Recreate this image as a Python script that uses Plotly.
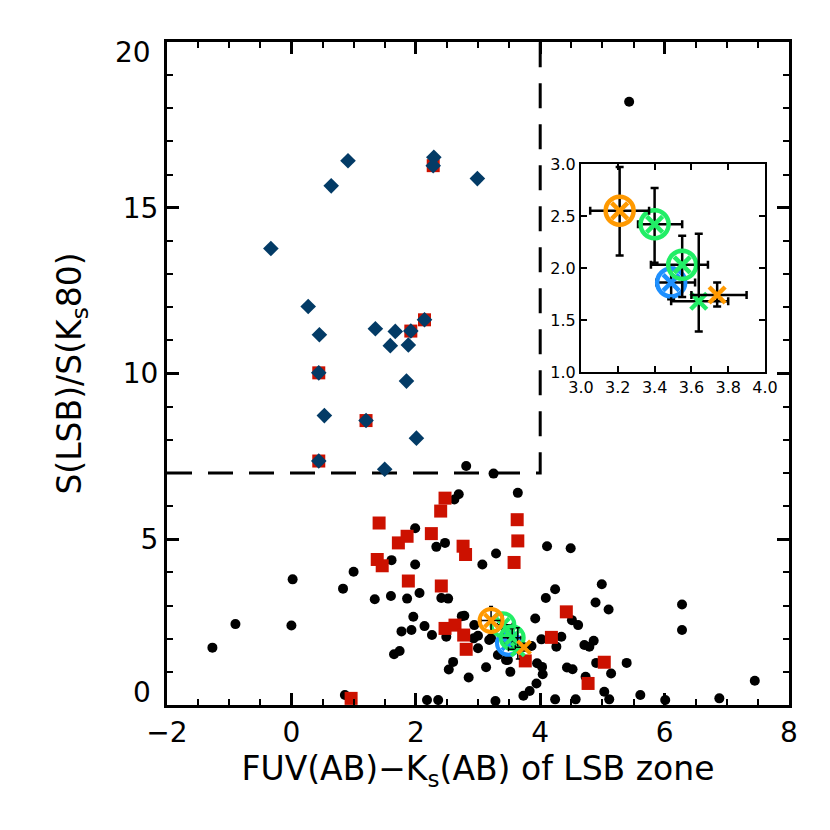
import plotly.graph_objects as go

# ---------------- data ----------------
black_x = [-1.27, -0.90, 0.00, 0.02, 0.83, 1.00, 0.86, 1.34, 1.61, 1.60, 1.86, 1.99, 1.99, 2.06,
           1.96, 1.77, 1.93, 1.65, 1.74, 2.14, 2.26, 2.33, 2.47, 2.41, 2.52, 2.49, 2.60, 2.53,
           2.62, 2.69, 2.74, 2.78, 2.93, 3.00, 2.85, 2.94, 3.07, 3.13, 3.29, 3.32, 3.21, 2.18,
           2.36, 3.28, 3.25, 2.81, 3.64, 4.11, 4.49, 4.99, 4.89, 5.10, 4.24, 4.09, 3.92, 4.51,
           4.61, 4.02, 4.34, 4.26, 4.71, 4.79, 4.86, 6.28, 6.28, 3.52, 3.45, 3.95, 4.03, 4.04,
           3.94, 3.73, 3.83, 4.43, 4.52, 4.90, 5.39, 5.14, 4.73, 5.03, 5.11, 4.24, 4.57, 5.61,
           6.01, 6.88, 7.45, 3.86, 5.43, 3.00, 3.18, 3.48, 3.45, 3.58]
black_y = [1.73, 2.44, 2.40, 3.79, 3.51, 4.02, 0.30, 3.19, 4.37, 3.29, 3.21, 5.33, 4.24, 3.38,
           2.66, 2.22, 2.26, 1.53, 1.63, 2.38, 2.11, 4.77, 4.89, 3.23, 3.21, 2.06, 1.30, 1.07,
           6.20, 6.36, 2.68, 2.69, 2.01, 1.71, 0.83, 2.41, 4.24, 1.14, 4.57, 1.51, 2.01, 0.15,
           0.15, 0.12, 6.98, 7.21, 6.40, 4.79, 4.73, 3.64, 3.09, 2.88, 3.49, 3.23, 2.61, 2.56,
           2.41, 1.98, 2.06, 1.76, 1.81, 1.76, 1.94, 3.03, 2.26, 1.00, 1.36, 1.26, 1.15, 0.93,
           0.65, 0.28, 0.42, 1.13, 1.08, 1.27, 1.27, 0.95, 0.85, 0.40, 0.17, 0.17, 0.17, 0.30,
           0.15, 0.20, 0.73, 1.78, 18.20, 2.09, 1.96, 1.36, 2.30, 1.95]

red_x = [0.96, 1.41, 1.38, 1.46, 1.72, 1.86, 1.88, 2.25, 2.40, 2.47, 2.76, 2.80, 2.41, 2.47,
         2.63, 2.77, 2.81, 3.63, 3.64, 3.58, 4.42, 4.18, 3.76, 5.03, 4.77,
         2.28, 1.92, 2.14, 0.44, 1.20, 0.44]
red_y = [0.20, 5.49, 4.39, 4.20, 4.89, 5.09, 3.74, 5.17, 5.85, 6.24, 4.79, 4.54, 3.59, 2.31,
         2.41, 2.11, 1.68, 5.59, 4.95, 4.30, 2.81, 2.04, 1.33, 1.29, 0.65,
         16.27, 11.28, 11.62, 10.02, 8.58, 7.36]

dia_x = [-0.33, 0.64, 0.91, 2.29, 2.28, 2.99, 0.27, 0.45, 1.35, 1.67, 1.92, 2.14, 1.59, 1.88,
         0.44, 1.85, 0.53, 1.20, 2.01, 0.44, 1.50]
dia_y = [13.77, 15.66, 16.42, 16.52, 16.27, 15.88, 12.02, 11.17, 11.35, 11.27, 11.28, 11.62,
         10.84, 10.86, 10.02, 9.77, 8.73, 8.58, 8.05, 7.36, 7.11]

# summary points drawn as rings: blue, green, green, orange
ring_x = [3.49, 3.40, 3.55, 3.21]
ring_y = [1.86, 2.42, 2.03, 2.55]
ring_x_lo = [3.41, 3.31, 3.38, 3.05]
ring_x_hi = [3.62, 3.55, 3.69, 3.37]
ring_y_lo = [1.70, 2.05, 1.72, 2.12]
ring_y_hi = [2.00, 2.77, 2.31, 2.97]

# summary points drawn as crosses only: green, orange
cross_x = [3.64, 3.74]
cross_y = [1.68, 1.74]
cross_x_lo = [3.49, 3.60]
cross_x_hi = [3.80, 3.90]
cross_y_lo = [1.39, 1.63]
cross_y_hi = [2.33, 1.86]

x_cut = 4.0
y_cut = 7.0
main_x_range = [-2, 8]
main_y_range = [0, 20]
main_x_ticks = [-2, 0, 2, 4, 6, 8]
main_x_ticktext = ["\u22122", "0", "2", "4", "6", "8"]
main_y_ticks = [0, 5, 10, 15, 20]
inset_x_range = [3.0, 4.0]
inset_y_range = [1.0, 3.0]
inset_x_ticks = [3.0, 3.2, 3.4, 3.6, 3.8, 4.0]
inset_y_ticks = [1.0, 1.5, 2.0, 2.5, 3.0]

# ---------------- style ----------------
ring_colors = ["#1E90FF", "#22EE66", "#22EE66", "#FF9900"]
cross_colors = ["#22EE66", "#FF9900"]
RED = "#CC1100"
NAVY = "#033B66"
FONT = "DejaVu Sans"

fig = go.Figure()

# dashed selection boundary
fig.add_trace(go.Scatter(
    x=[main_x_range[0], x_cut, x_cut], y=[y_cut, y_cut, main_y_range[1]],
    mode="lines", line=dict(color="black", width=3, dash="25px,16px"),
    hoverinfo="skip", showlegend=False, cliponaxis=False))

fig.add_trace(go.Scatter(x=black_x, y=black_y, mode="markers",
                         marker=dict(color="black", size=10), showlegend=False))
fig.add_trace(go.Scatter(x=red_x, y=red_y, mode="markers",
                         marker=dict(color=RED, symbol="square", size=13), showlegend=False))
fig.add_trace(go.Scatter(x=dia_x, y=dia_y, mode="markers",
                         marker=dict(color=NAVY, symbol="diamond", size=12), showlegend=False))


def add_summary(xa, ya, ring_size, ring_w, x_size, x_w, eb_th, eb_w):
    for i in range(len(ring_x)):
        fig.add_trace(go.Scatter(
            x=[ring_x[i]], y=[ring_y[i]], mode="markers", xaxis=xa, yaxis=ya,
            marker=dict(symbol="circle-open", size=ring_size, color=ring_colors[i],
                        line=dict(width=ring_w, color=ring_colors[i])),
            error_x=dict(type="data", symmetric=False, array=[ring_x_hi[i] - ring_x[i]],
                         arrayminus=[ring_x[i] - ring_x_lo[i]], color="black",
                         thickness=eb_th, width=eb_w),
            error_y=dict(type="data", symmetric=False, array=[ring_y_hi[i] - ring_y[i]],
                         arrayminus=[ring_y[i] - ring_y_lo[i]], color="black",
                         thickness=eb_th, width=eb_w),
            showlegend=False))
        fig.add_trace(go.Scatter(
            x=[ring_x[i]], y=[ring_y[i]], mode="markers", xaxis=xa, yaxis=ya,
            marker=dict(symbol="x-thin", size=x_size, color=ring_colors[i],
                        line=dict(width=x_w, color=ring_colors[i])),
            showlegend=False))
    for i in range(len(cross_x)):
        fig.add_trace(go.Scatter(
            x=[cross_x[i]], y=[cross_y[i]], mode="markers", xaxis=xa, yaxis=ya,
            marker=dict(symbol="x-thin", size=x_size, color=cross_colors[i],
                        line=dict(width=x_w, color=cross_colors[i])),
            error_x=dict(type="data", symmetric=False, array=[cross_x_hi[i] - cross_x[i]],
                         arrayminus=[cross_x[i] - cross_x_lo[i]], color="black",
                         thickness=eb_th, width=eb_w),
            error_y=dict(type="data", symmetric=False, array=[cross_y_hi[i] - cross_y[i]],
                         arrayminus=[cross_y[i] - cross_y_lo[i]], color="black",
                         thickness=eb_th, width=eb_w),
            showlegend=False))


add_summary("x", "y", 23, 4, 13, 4, 1.5, 2)
add_summary("x2", "y2", 28, 4.5, 16, 4.5, 2.5, 4)

axis_common = dict(showline=True, linecolor="black", mirror="ticks", ticks="inside",
                   showgrid=False, zeroline=False, tickcolor="black")

# inner y tick labels via the axis; the end labels are pulled inward like the original
inner_y = [v for v in main_y_ticks if v not in (main_y_range[0], main_y_range[1])]
end_labels = [
    dict(text=str(main_y_range[0]), y=main_y_range[0], yshift=13),
    dict(text=str(main_y_range[1]), y=main_y_range[1], yshift=-10),
]
annotations = [
    dict(text=a["text"], x=0, xref="paper", y=a["y"], yref="y", xanchor="right",
         yanchor="middle", xshift=-14, yshift=a["yshift"], showarrow=False,
         font=dict(size=28, family=FONT, color="black"))
    for a in end_labels
]

# the page body adds an 8px offset, so the figure is 822px and margins compensate
fig.update_layout(
    width=822, height=822,
    margin=dict(l=159, r=41, t=34, b=125),
    paper_bgcolor="white", plot_bgcolor="white",
    font=dict(family=FONT, color="black"),
    annotations=annotations,
    xaxis=dict(range=main_x_range, tickvals=main_x_ticks, ticktext=main_x_ticktext,
               linewidth=3, tickwidth=3, ticklen=12,
               minor=dict(dtick=0.5, ticklen=6, tickwidth=2, ticks="inside", tickcolor="black"),
               tickfont=dict(size=28, family=FONT),
               title=dict(text="FUV(AB)\u2212K<sub>s</sub>(AB) of LSB zone",
                          font=dict(size=33, family=FONT), standoff=6),
               **axis_common),
    yaxis=dict(range=main_y_range, tickvals=inner_y,
               linewidth=3, tickwidth=3, ticklen=12,
               minor=dict(dtick=1, ticklen=6, tickwidth=2, ticks="inside", tickcolor="black"),
               tickfont=dict(size=28, family=FONT),
               title=dict(text="S(LSB)/S(K<sub>s</sub>80)", font=dict(size=33, family=FONT),
                          standoff=32),
               **axis_common),
    xaxis2=dict(domain=[0.6656, 0.9614], anchor="y2", range=inset_x_range,
                tickvals=inset_x_ticks, ticktext=[f"{v:.1f}" for v in inset_x_ticks],
                linewidth=2, tickwidth=2, ticklen=6,
                tickfont=dict(size=16, family=FONT), **axis_common),
    yaxis2=dict(domain=[0.5023, 0.816], anchor="x2", range=inset_y_range,
                tickvals=inset_y_ticks, ticktext=[f"{v:.1f}" for v in inset_y_ticks],
                linewidth=2, tickwidth=2, ticklen=6,
                tickfont=dict(size=16, family=FONT), **axis_common),
)

fig.write_html("out.html")
